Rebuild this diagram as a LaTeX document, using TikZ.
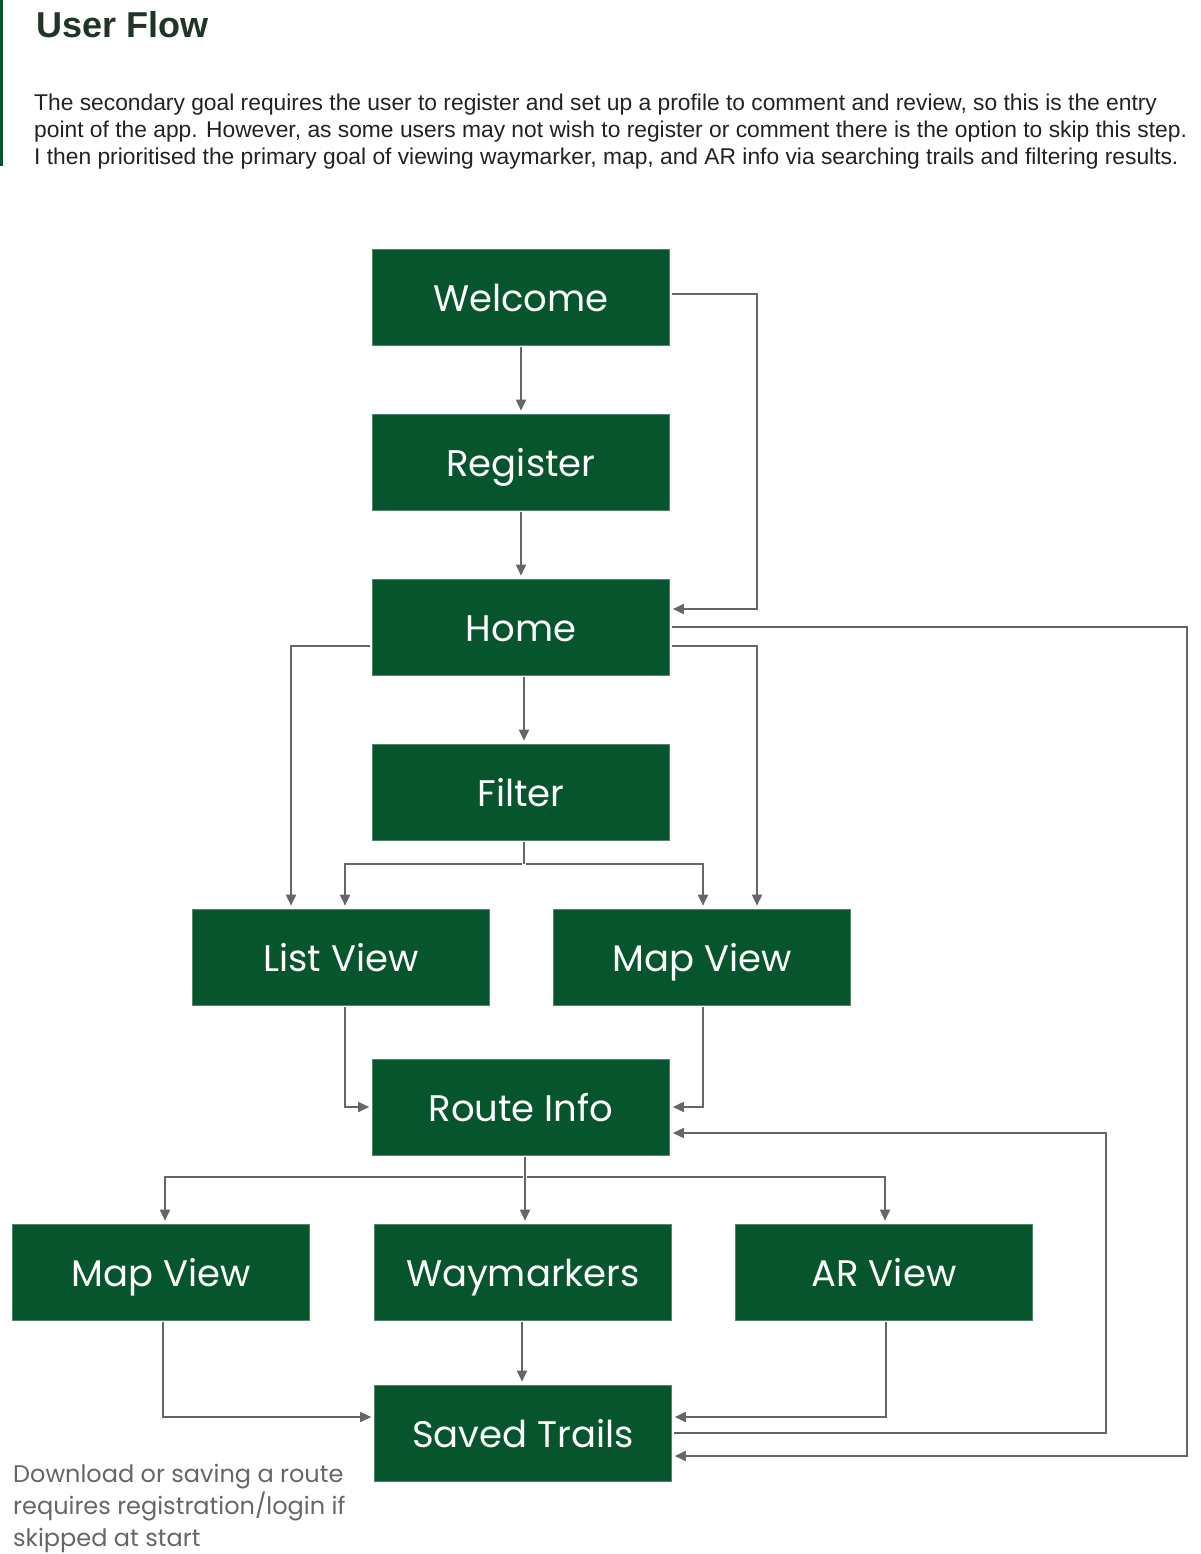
\documentclass[tikz,border=0pt]{standalone}
\usepackage{fontspec}
\setmainfont{Liberation Sans}
\newfontfamily\poppins{Poppins}
\usetikzlibrary{arrows.meta}
\definecolor{vert}{HTML}{06552C}
\definecolor{gris}{HTML}{666666}
\definecolor{titre}{HTML}{1F3527}
\definecolor{texte}{HTML}{222222}

\begin{document}
\begin{tikzpicture}[x=1pt,y=-1pt]
\useasboundingbox (0,0) rectangle (1200,1554);
%environnement
\tikzstyle{ecran}=[fill=vert, draw=vert!70!white, line width=0.6pt, minimum width=297pt,
  minimum height=96pt, inner sep=0pt, text height=28pt, text depth=0pt, text=white,
  font=\poppins\fontsize{37}{44}\selectfont]
\tikzstyle{fleche}=[draw=gris, line width=1.7pt, shorten >=3pt, shorten <=2pt,
  -{Triangle[length=11pt,width=10pt]}]
\tikzstyle{trait}=[draw=gris, line width=1.7pt, shorten <=2pt]

%heading
\draw[vert, line width=3pt] (1.5,0) -- (1.5,166);
\node[anchor=base west, text=titre, font=\bfseries\fontsize{36}{40}\selectfont] (titre) at (33,38) {User Flow};
\node[anchor=north west, align=left, inner sep=0pt, text=texte, font=\fontsize{22.8}{27}\selectfont] (intro) at (34,94)
  {The secondary goal requires the user to register and set up a profile to comment and review, so this is the entry\\
   point of the app. However, as some users may not wish to register or comment there is the option to skip this step.\\
   I then prioritised the primary goal of viewing waymarker, map, and AR info via searching trails and filtering results.};

%the screens
\node[ecran] (welcome) at (521,297) {Welcome};
\node[ecran] (register) at (521,462) {Register};
\node[ecran] (home) at (521,627) {Home};
\node[ecran] (filter) at (521,792) {Filter};
\node[ecran] (listview) at (341,957) {List View};
\node[ecran] (mapview) at (702,957) {Map View};
\node[ecran] (routeinfo) at (521,1107) {Route Info};
\node[ecran] (mapview2) at (161,1272) {Map View};
\node[ecran] (waymarkers) at (523,1272) {Waymarkers};
\node[ecran] (arview) at (884,1272) {AR View};
\node[ecran] (saved) at (523,1433) {Saved Trails};

\node[anchor=north west, align=left, inner sep=0pt, text=gris, font=\poppins\fontsize{24}{32}\selectfont] (note) at (13,1464)
  {Download or saving a route\\ requires registration/login if\\ skipped at start};

%the flow
\draw[fleche] (welcome) -- (register);
\draw[fleche] (register) -- (home);
\draw[fleche] ([yshift=3pt]welcome.east) -- ++(87,0) |- ([yshift=18pt]home.east);
\draw[fleche] (home.east) -- ++(517,0) |- ([yshift=-23pt]saved.east);
\draw[fleche] ([yshift=-19pt]home.east) -| ([xshift=55pt]mapview.north);
\draw[fleche] ([yshift=-19pt]home.west) -| ([xshift=-50pt]listview.north);
\draw[fleche] ([xshift=3pt]home.south) -- ([xshift=3pt]filter.north);

\draw[trait] ([xshift=3pt]filter.south) -- ++(0,24) coordinate (fj);
\draw[fleche] (fj) -| ([xshift=4pt]listview.north);
\draw[fleche] (fj) -| ([xshift=1pt]mapview.north);
\draw[fleche] ([xshift=4pt]listview.south) |- (routeinfo.west);
\draw[fleche] ([xshift=1pt]mapview.south) |- (routeinfo.east);
\draw[fleche] (saved.east) -- ++(434,0) |- ([yshift=-26pt]routeinfo.east);

\draw[trait] ([xshift=4pt]routeinfo.south) -- ++(0,22) coordinate (rj);
\draw[fleche] (rj) -| ([xshift=4pt]mapview2.north);
\draw[fleche] (rj) -| ([xshift=2pt]waymarkers.north);
\draw[fleche] (rj) -| ([xshift=1pt]arview.north);
\draw[fleche] ([xshift=2pt]mapview2.south) |- ([yshift=16pt]saved.west);
\draw[fleche] ([xshift=-1pt]waymarkers.south) -- ([xshift=-1pt]saved.north);
\draw[fleche] ([xshift=2pt]arview.south) |- ([yshift=16pt]saved.east);

\end{tikzpicture}
\end{document}
